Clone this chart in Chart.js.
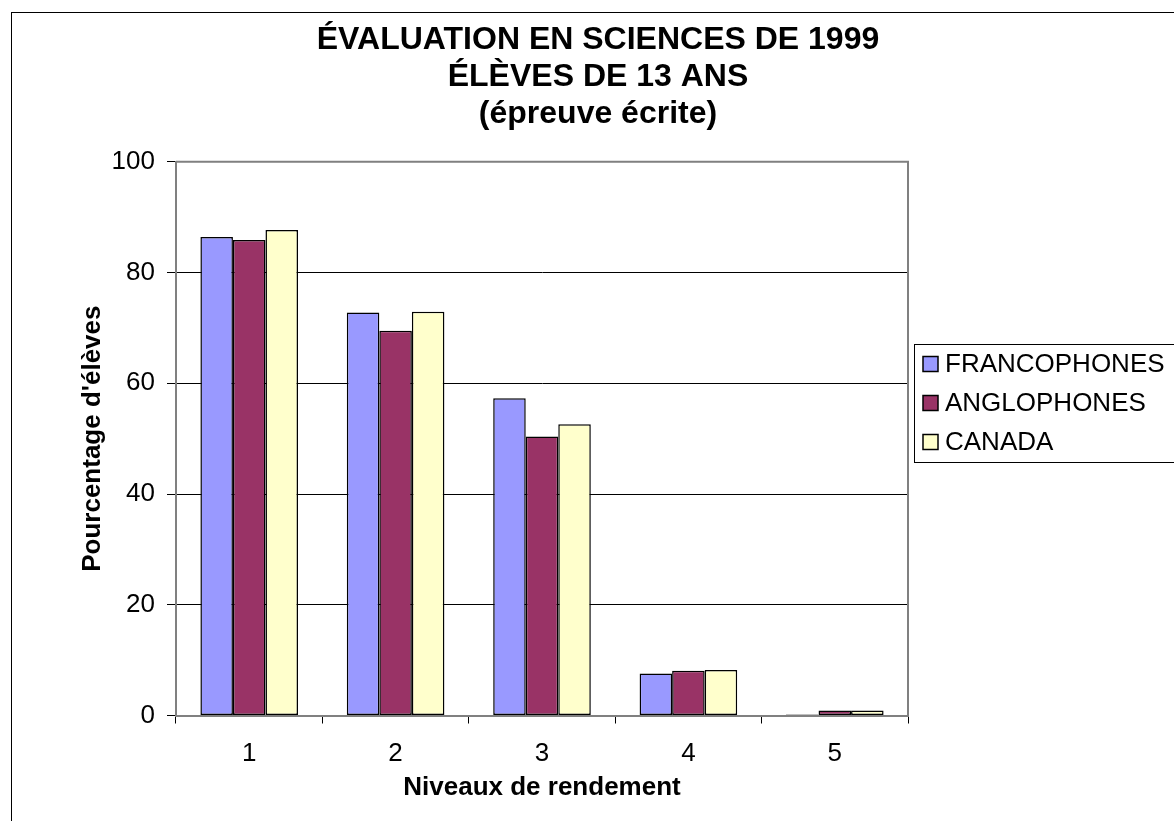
<!DOCTYPE html>
<html lang="fr">
<head>
<meta charset="utf-8">
<title>Évaluation en sciences de 1999</title>
<script src="https://cdn.jsdelivr.net/npm/chart.js@4/dist/chart.umd.min.js"></script>
<style>
  html, body { margin: 0; padding: 0; background: #fff; }
  #wrap { width: 1174px; height: 821px; position: relative; }
</style>
</head>
<body>
<div id="wrap"><canvas id="graphique"></canvas></div>
<script>
// Données
const niveaux = ['1', '2', '3', '4', '5'];
const francophones = [86.4, 72.8, 57.3, 7.6, 0.2];
const anglophones = [85.9, 69.5, 50.4, 8.1, 0.9];
const canada = [87.7, 72.9, 52.6, 8.2, 0.9];
const ticksY = [0, 20, 40, 60, 80, 100];

Chart.defaults.font.family = '"Liberation Sans", Arial, sans-serif';
Chart.defaults.color = '#000';

// Cadre extérieur du graphique (dépasse la fenêtre à droite et en bas)
const cadreExterieur = {
    id: 'cadreExterieur',
    afterDraw(chart) {
        const ctx = chart.ctx;
        ctx.save();
        ctx.strokeStyle = '#000';
        ctx.lineWidth = 1;
        ctx.strokeRect(11.5, 12.5, 1400, 1000);
        ctx.restore();
    }
};

// Bordure grise du haut et de droite de la zone de traçage
const bordureZone = {
    id: 'bordureZone',
    beforeDatasetsDraw(chart) {
        const a = chart.chartArea;
        const ctx = chart.ctx;
        ctx.save();
        ctx.strokeStyle = '#808080';
        ctx.lineWidth = 2;
        ctx.beginPath();
        ctx.moveTo(a.left, a.top);
        ctx.lineTo(a.right, a.top);
        ctx.lineTo(a.right, a.bottom);
        ctx.stroke();
        ctx.restore();
    }
};

// Légende dessinée à droite, à partir des jeux de données
const legendeDroite = {
    id: 'legendeDroite',
    afterDraw(chart) {
        const ctx = chart.ctx;
        const x0 = 914, y0 = 344, h = 118;
        ctx.save();
        ctx.strokeStyle = '#000';
        ctx.lineWidth = 1;
        ctx.strokeRect(x0 + 0.5, y0 + 0.5, 400, h);
        ctx.font = '26px "Liberation Sans", Arial, sans-serif';
        ctx.textBaseline = 'middle';
        ctx.textAlign = 'left';
        chart.data.datasets.forEach((ds, i) => {
            const yc = 364 + i * 39;
            ctx.fillStyle = ds.backgroundColor;
            ctx.fillRect(923, yc - 7.5, 15, 15);
            ctx.lineWidth = 1.5;
            ctx.strokeStyle = '#000';
            ctx.strokeRect(923, yc - 7.5, 15, 15);
            ctx.fillStyle = '#000';
            ctx.fillText(ds.label, 945, yc + 1);
        });
        ctx.restore();
    }
};

function serie(label, data, couleur) {
    return {
        label: label,
        data: data,
        backgroundColor: couleur,
        borderColor: '#000',
        borderWidth: 1.5,
        borderSkipped: false,
        categoryPercentage: 3 / 4.5,
        barPercentage: 1
    };
}

const ctx = document.getElementById('graphique').getContext('2d');
new Chart(ctx, {
    type: 'bar',
    data: {
        labels: niveaux,
        datasets: [
            serie('FRANCOPHONES', francophones, '#9999FF'),
            serie('ANGLOPHONES', anglophones, '#993366'),
            serie('CANADA', canada, '#FFFFCC')
        ]
    },
    options: {
        responsive: true,
        maintainAspectRatio: false,
        animation: false,
        layout: { padding: { left: 22, right: 0, top: 0, bottom: 0 } },
        scales: {
            x: {
                ticks: { color: '#000', font: { size: 26 }, padding: 15 },
                grid: { offset: true, drawOnChartArea: false, tickLength: 8, color: '#000' },
                border: { color: '#808080', width: 2 },
                title: {
                    display: true,
                    text: 'Niveaux de rendement',
                    color: '#000',
                    font: { size: 26, weight: 'bold' },
                    padding: { top: 0, bottom: 18 }
                },
                afterFit: s => { s.height = 105.5; }
            },
            y: {
                min: 0,
                max: 100,
                afterBuildTicks: s => { s.ticks = ticksY.map(v => ({ value: v })); },
                ticks: { color: '#000', font: { size: 26 }, padding: 12 },
                grid: {
                    color: c => (c.tick && c.tick.value === 100) ? '#808080' : '#000',
                    lineWidth: 1,
                    tickLength: 9,
                    tickColor: '#000'
                },
                border: { color: '#808080', width: 2 },
                title: {
                    display: true,
                    text: "Pourcentage d'élèves",
                    color: '#000',
                    font: { size: 26, weight: 'bold' },
                    padding: { top: 55, bottom: 0 }
                },
                afterFit: s => { s.width = 154; }
            },
            // espace réservé pour la légende à droite
            espaceLegende: {
                type: 'linear',
                position: 'right',
                grid: { display: false },
                ticks: { display: false },
                border: { display: false },
                afterFit: s => { s.width = 266; }
            }
        },
        plugins: {
            legend: { display: false },
            tooltip: { enabled: false },
            title: {
                display: true,
                text: ['ÉVALUATION EN SCIENCES DE 1999', 'ÉLÈVES DE 13 ANS', '(épreuve écrite)'],
                color: '#000',
                font: { size: 32, weight: 'bold', lineHeight: 1.17 },
                padding: { top: 21, bottom: 28.5 }
            }
        }
    },
    plugins: [bordureZone, legendeDroite, cadreExterieur]
});
</script>
</body>
</html>
